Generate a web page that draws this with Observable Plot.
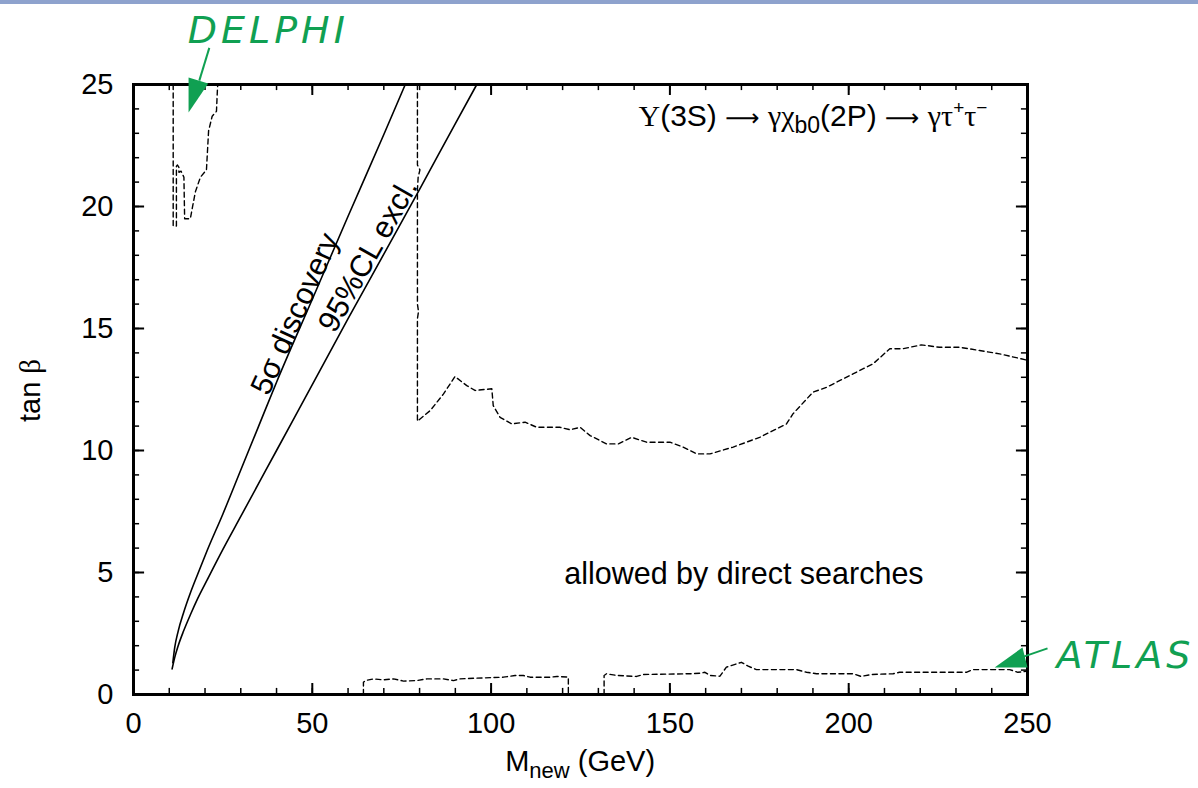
<!DOCTYPE html>
<html>
<head>
<meta charset="utf-8">
<script src="https://cdn.jsdelivr.net/npm/d3@7"></script>
<script src="https://cdn.jsdelivr.net/npm/@observablehq/plot@0.6"></script>
<style>
  html, body { margin: 0; padding: 0; background: #fff; }
  #wrap { position: relative; width: 1198px; height: 788px; overflow: hidden; }
  #topbar { position: absolute; left: 0; top: 0; width: 1198px; height: 4px; background: #8ea2cd; }
</style>
</head>
<body>
<div id="wrap"><div id="topbar"></div></div>
<script>
// ---- data ----
const xTickLabels = [0, 50, 100, 150, 200, 250];
const yTickLabels = [0, 5, 10, 15, 20, 25];

// 5 sigma discovery curve [M_new, tan beta]
const discovery5sigma = [[11,1.3],[11.5,1.9],[12.5,2.6],[14,3.35],[16,4.2],[18,4.95],[20.6,5.9],[25,7.4],[30,9.2],[35,11.0],[40,12.8],[50,16.2],[60,19.6],[70,22.95],[76,25]];
// 95% CL exclusion curve
const excl95CL = [[10.8,1.05],[11.5,1.5],[12.5,2.0],[14,2.6],[16,3.3],[18,3.95],[20.6,4.7],[25,5.95],[30,7.3],[35,8.65],[40,10.0],[50,12.7],[60,15.4],[70,18.05],[80,20.7],[90,23.4],[96,25]];
// DELPHI direct-search contour (dashed)
const delphi = [[11.1,25],[11.1,19.2],[12.0,19.2],[12.0,21.65],[12.3,21.7],[12.7,21.6],[12.7,21.4],[13.3,21.45],[14.1,21.2],[14.3,19.5],[15.9,19.5],[16.4,19.9],[17.3,20.6],[18.7,21.2],[20.4,21.5],[21.0,23.1],[22.0,23.7],[23.2,23.9],[23.5,24.9],[23.6,25]];
// upper direct-search limit (dashed)
const upperLimit = [[79.4,25],[79.4,21.7],[80.1,21.5],[79.6,21.2],[79.4,20.7],[79.4,16.0],[79.7,15.7],[79.4,15.4],[79.4,11.2],[83.0,11.64],[86.7,12.32],[89.9,13.03],[93.2,12.66],[95.5,12.46],[100.2,12.53],[100.6,11.84],[102.5,11.36],[105.8,11.09],[109.5,11.16],[112.8,10.95],[119.3,10.95],[122.1,10.85],[124.9,10.95],[127.7,10.61],[132.3,10.27],[135.6,10.27],[139.3,10.54],[143.5,10.34],[150.0,10.34],[153.7,10.14],[157.5,9.86],[161.2,9.86],[167.7,10.14],[175.1,10.54],[182.6,11.09],[184.4,11.5],[190.0,12.39],[193.8,12.59],[201.2,13.14],[206.8,13.55],[211.5,14.17],[215.2,14.17],[220.3,14.33],[225.4,14.23],[231.0,14.23],[236.6,14.1],[242.2,13.96],[248.2,13.76],[250,13.7]];
// lower direct-search limit (ATLAS), two pieces
const lowerLimitA = [[64.3,0],[64.3,0.5],[64.8,0.57],[67.1,0.64],[69.9,0.6],[72.7,0.64],[75.5,0.55],[79.2,0.57],[82,0.64],[86.7,0.64],[89.5,0.57],[91.3,0.64],[96,0.67],[103.4,0.71],[106.7,0.78],[109,0.78],[110.9,0.71],[116.5,0.71],[118.4,0.74],[121.6,0.71],[121.6,0]];
const lowerLimitB = [[131.6,0],[131.6,0.78],[132.3,0.85],[135.1,0.78],[140.7,0.74],[142.6,0.82],[155.6,0.85],[158.4,0.87],[159.8,0.91],[161.2,0.78],[164,0.75],[165.8,1.12],[170,1.32],[171.9,1.16],[174.2,1.02],[185.4,1.02],[188.2,0.91],[191,0.85],[201.2,0.85],[203.5,0.74],[206.3,0.82],[212.4,0.85],[214.2,0.91],[232.9,0.91],[234.7,1.02],[245,1.02],[247.3,0.91],[249.6,0.95],[250,0.95]];

// text annotations [x, y, text, rotate]
const curveLabels = [[45.2, 15.6, "5σ discovery", -65.7], [65.6, 18.0, "95%CL excl.", -60.6]];
const regionLabel = [[170.7, 4.92, "allowed by direct searches"]];
const processLabel = [[238.8, 23.7, "PROCESS"]];
// hand-drawn green call-outs
const delphiText = [[37.7, 27.2, "DELPHI"]];
const delphiArrow = [[21.2, 26.5, 18.4, 25.16]];
const delphiHead = [[15.4, 25.29], [20.9, 25.04], [15.4, 23.85], [15.4, 25.29]];
const atlasText = [[277.4, 1.6, "ATLAS"]];
const atlasArrow = [[255.6, 1.89, 248.3, 1.52]];
const atlasHead = [[240.8, 1.11], [248.6, 1.93], [250.0, 1.11], [240.8, 1.11]];
const axisTitles = [[124.9, -2.75, "XLABEL", 0], [-28.8, 12.46, "YLABEL", -90]];

// ---- chart ----
const xMinor = d3.range(0, 251, 10), yMinor = d3.range(0, 26, 1);
const green = "#10a052";
const sans = "Liberation Sans, Arial, sans-serif";
const serif = "Liberation Serif, Times New Roman, serif";
const dashed = {stroke: "black", strokeWidth: 1.4, strokeDasharray: "5,3.5"};

const chart = Plot.plot({
  width: 1198, height: 788,
  marginLeft: 133, marginRight: 171, marginTop: 84, marginBottom: 94,
  x: {domain: [0, 250]},
  y: {domain: [0, 25]},
  style: {fontFamily: sans, fontSize: "29px", color: "black", background: "transparent"},
  marks: [
    Plot.axisX({ticks: xTickLabels, tickSize: 0, tickPadding: 18, label: null, fontSize: 29}),
    Plot.axisY({ticks: yTickLabels, tickSize: 0, tickPadding: 20, label: null, fontSize: 29}),
    // inward ticks on all four sides
    Plot.ruleX(xMinor, {x: d => d, y1: 0, y2: 0.25, strokeWidth: 1.5}),
    Plot.ruleX(xMinor, {x: d => d, y1: 25, y2: 24.75, strokeWidth: 1.5}),
    Plot.ruleX(xTickLabels, {x: d => d, y1: 0, y2: 0.45, strokeWidth: 2}),
    Plot.ruleX(xTickLabels, {x: d => d, y1: 25, y2: 24.55, strokeWidth: 2}),
    Plot.ruleY(yMinor, {y: d => d, x1: 0, x2: 1.7, strokeWidth: 1.5}),
    Plot.ruleY(yMinor, {y: d => d, x1: 250, x2: 248.3, strokeWidth: 1.5}),
    Plot.ruleY(yTickLabels, {y: d => d, x1: 0, x2: 3.1, strokeWidth: 2}),
    Plot.ruleY(yTickLabels, {y: d => d, x1: 250, x2: 246.9, strokeWidth: 2}),
    // curves
    Plot.line(discovery5sigma, {x: d => d[0], y: d => d[1], stroke: "black", strokeWidth: 1.6, curve: "monotone-x"}),
    Plot.line(excl95CL, {x: d => d[0], y: d => d[1], stroke: "black", strokeWidth: 1.6, curve: "monotone-x"}),
    Plot.line(delphi, {x: d => d[0], y: d => d[1], ...dashed}),
    Plot.line(upperLimit, {x: d => d[0], y: d => d[1], ...dashed}),
    Plot.line(lowerLimitA, {x: d => d[0], y: d => d[1], ...dashed}),
    Plot.line(lowerLimitB, {x: d => d[0], y: d => d[1], ...dashed}),
    Plot.frame({stroke: "black", strokeWidth: 3}),
    // labels
    Plot.text(curveLabels, {x: d => d[0], y: d => d[1], text: d => d[2], rotate: d => d[3], fontSize: 30.5, fill: "black"}),
    Plot.text(regionLabel, {x: d => d[0], y: d => d[1], text: d => d[2], fontSize: 30.5, fill: "black"}),
    Plot.text(processLabel, {x: d => d[0], y: d => d[1], text: d => d[2], fontSize: 30, textAnchor: "end", fill: "black"}),
    Plot.text(axisTitles, {x: d => d[0], y: d => d[1], text: d => d[2], rotate: d => d[3], fontSize: 29, fill: "black"}),
    // green call-outs
    Plot.link(delphiArrow, {x1: d => d[0], y1: d => d[1], x2: d => d[2], y2: d => d[3], stroke: green, strokeWidth: 2}),
    Plot.line(delphiHead, {x: d => d[0], y: d => d[1], fill: green, stroke: "none"}),
    Plot.link(atlasArrow, {x1: d => d[0], y1: d => d[1], x2: d => d[2], y2: d => d[3], stroke: green, strokeWidth: 2}),
    Plot.line(atlasHead, {x: d => d[0], y: d => d[1], fill: green, stroke: "none"}),
    Plot.text(delphiText, {x: d => d[0], y: d => d[1], text: d => d[2], fill: green, fontSize: 38, fontStyle: "italic", fontFamily: "DejaVu Sans", fontWeight: "normal"}),
    Plot.text(atlasText, {x: d => d[0], y: d => d[1], text: d => d[2], fill: green, fontSize: 38, fontStyle: "italic", fontFamily: "DejaVu Sans", fontWeight: "normal"})
  ]
});

// rich text (sub/superscripts, Greek glyphs)
function rich(placeholder, segs) {
  d3.select(chart).selectAll("text").filter(function() { return this.textContent === placeholder; }).each(function() {
    const t = d3.select(this);
    t.text(null);
    for (const s of segs) {
      const ts = t.append("tspan").text(s.t);
      if (s.f) ts.attr("font-family", s.f);
      if (s.s) ts.attr("font-size", s.s);
      if (s.dy) ts.attr("dy", s.dy);
    }
  });
}
const arrowFont = "DejaVu Sans, sans-serif";
rich("PROCESS", [
  {t: "Υ", f: serif}, {t: "(3S) "}, {t: "⟶", f: arrowFont, s: 24}, {t: " "}, {t: "γχ", f: serif},
  {t: "b0", s: 23, dy: 7}, {t: "(2P) ", dy: -7}, {t: "⟶", f: arrowFont, s: 24}, {t: " "}, {t: "γτ", f: serif},
  {t: "+", s: 19, dy: -12}, {t: "τ", f: serif, dy: 12}, {t: "−", s: 19, dy: -12}
]);
rich("XLABEL", [{t: "M"}, {t: "new", s: 22, dy: 7}, {t: " (GeV)", dy: -7}]);
rich("YLABEL", [{t: "tan "}, {t: "β", f: serif}]);
d3.select(chart).selectAll("text").filter(function(){ return this.textContent === "DELPHI" || this.textContent === "ATLAS"; }).attr("letter-spacing", 4);

document.getElementById("wrap").appendChild(chart);
</script>
</body>
</html>
